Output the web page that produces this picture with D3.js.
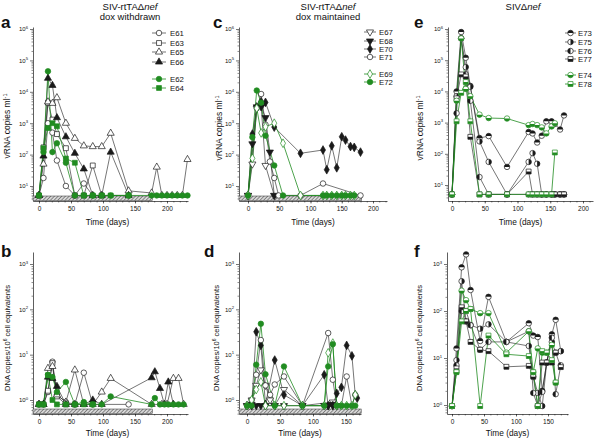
<!DOCTYPE html>
<meta charset="utf-8">
<style>
  body { margin: 0; background: #fff; }
  text { font-family: "Liberation Sans", Arial, Helvetica, sans-serif; fill: #111; }
</style>
<body>
<script src="https://cdn.jsdelivr.net/npm/d3@7/dist/d3.min.js"></script>
<script>
// ---- data: [day, value] ----
// panel a : vRNA, dox withdrawn
const a_E61 = [[0,5],[7,18],[14,1000],[21,500],[28,65],[42,10],[56,5],[70,12],[84,5],[140,5]];
const a_E63 = [[0,5],[7,170],[14,4500],[21,1300],[28,450],[42,160],[56,5],[70,5],[84,45],[98,5]];
const a_E65 = [[0,5],[7,50],[14,4800],[21,4300],[28,6500],[42,1000],[56,330],[70,190],[84,180],[98,180],[112,480],[140,7],[176,6],[184,40],[192,5],[200,5],[208,5],[216,5],[224,5],[232,70]];
const a_E66 = [[0,5],[7,90],[14,27000],[21,16000],[28,1500],[42,370],[56,110],[70,35],[84,5],[98,5],[112,120],[140,5]];
const a_E62 = [[0,5],[7,120],[14,45000],[21,120],[28,230],[42,55],[56,5],[70,5],[84,5],[98,5],[112,5],[140,5],[176,5],[184,5],[192,5],[200,5],[208,5],[216,5],[224,5],[232,5]];
const a_E64 = [[0,5],[7,160],[14,700],[21,1000],[28,800],[42,75],[56,55],[70,5],[84,5],[98,5],[112,5],[140,5]];

// panel b : DNA, dox withdrawn
const b_E61 = [[0,0.8],[7,0.8],[14,1.5],[21,7],[28,1.3],[42,0.9],[56,0.8],[70,4],[84,0.8],[140,0.8]];
const b_E63 = [[0,0.8],[7,0.8],[14,1.6],[21,6.5],[28,1.2],[42,0.8],[56,0.8]];
const b_E65 = [[0,0.8],[7,0.8],[14,5],[21,5.5],[28,1.3],[42,0.9],[56,4.6],[70,0.8],[84,0.8],[98,1.5],[112,3],[176,0.8],[192,0.8],[200,0.8],[210,3],[218,3],[226,0.8]];
const b_E66 = [[0,0.8],[7,0.8],[14,3.2],[21,3],[28,2],[42,0.8],[56,0.8],[70,0.8],[84,1],[98,0.8],[176,3.1],[181,4.2],[189,1.8],[196,0.8],[202,2.5],[210,0.8]];
const b_E62 = [[0,0.8],[7,0.8],[14,3.6],[21,3.2],[28,1.5],[42,2.5],[56,0.8],[70,0.9],[84,0.8],[98,0.8],[112,1.2],[176,0.8],[181,1.1],[189,0.8],[196,0.8],[202,0.8],[210,0.8],[218,0.8],[226,0.8]];
const b_E64 = [[0,0.8],[7,0.8],[14,3.5],[21,1],[28,0.8],[42,0.8],[56,0.8],[70,0.8],[84,0.8]];

// panel c : vRNA, dox maintained
const c_E67 = [[0,5],[7,50],[14,3000],[21,3500],[28,45],[42,5]];
const c_E68 = [[0,5],[7,220],[14,3300],[21,3300],[28,1500],[35,120],[42,5]];
const c_E70 = [[0,5],[7,450],[14,3300],[21,4800],[28,4600],[42,750],[84,110],[120,140],[126,33],[134,190],[142,38],[150,370],[156,290],[164,180],[170,170],[180,120]];
const c_E71 = [[0,5],[14,3000],[21,8500],[28,900],[35,60],[42,18],[49,5],[84,5],[120,12],[180,5]];
const c_E69 = [[0,5],[7,76],[14,3000],[21,490],[28,770],[42,1000],[56,230],[84,5],[120,5],[126,5],[134,5],[142,5],[150,5],[156,5],[164,5],[170,5]];
const c_E72 = [[0,5],[7,360],[14,11000],[21,4500],[28,400],[42,45],[56,5],[120,5],[126,5],[134,5],[142,5],[150,5],[156,5],[164,5],[170,5]];

// panel d : DNA, dox maintained
const d_E67 = [[0,0.75],[7,1],[14,2.1],[21,4.6],[28,2.1],[35,1],[42,0.75],[56,1.7],[84,0.75],[130,0.9]];
const d_E68 = [[0,0.75],[7,0.8],[14,0.75],[21,0.75],[28,0.75],[42,0.75],[56,0.75],[84,0.75],[117,0.75],[123,0.75],[130,0.8],[136,0.75]];
const d_E70 = [[0,0.75],[7,0.75],[14,32],[21,16],[28,0.8],[42,7.6],[56,1.3],[84,0.75],[117,3.6],[123,0.75],[130,0.75],[136,1.4],[143,1.9],[151,16],[159,9.4],[164,1.3],[167,1.1]];
const d_E71 = [[0,0.75],[7,1],[14,3.6],[21,21],[28,2.1],[35,1.3],[42,2.2],[56,3.3],[84,0.75],[123,30],[130,2.8],[136,0.75],[143,0.75],[151,3.3],[159,0.75],[164,1.3]];
const d_E69 = [[0,0.75],[7,1],[14,1.7],[21,2.5],[28,0.75],[42,0.75],[56,0.75],[84,0.75],[117,0.75],[123,11],[130,18],[136,0.75],[143,0.75],[151,0.75],[159,0.75],[164,1.3]];
const d_E72 = [[0,0.75],[7,0.75],[14,6],[21,48],[28,3.7],[42,0.75],[56,5.5],[84,0.75],[117,0.75],[123,5.5],[130,17],[136,0.75],[143,0.75],[151,0.75],[159,0.75],[164,0.75]];

// panel e : vRNA, SIVdelta-nef
const e_E73 = [[0,5],[7,10000],[14,800000],[21,120000],[28,15000],[42,320],[56,370],[84,38],[117,500],[123,450],[130,230],[137,380],[144,1100],[152,1100],[157,900],[165,600],[171,1700]];
const e_E75 = [[0,5],[7,7000],[14,500000],[21,60000],[28,14000],[42,250],[56,55],[84,5],[117,55],[123,105],[130,48],[137,5],[144,5],[152,5],[157,5],[165,5],[171,5]];
const e_E76 = [[0,5],[7,2000],[14,500000],[21,35000],[28,5000],[42,18],[56,5],[84,5],[117,5],[123,5],[130,5],[137,5],[144,5],[152,5],[157,5],[165,5],[171,5]];
const e_E77 = [[0,5],[7,6000],[14,35000],[21,30000],[28,350],[42,5],[56,5],[84,5],[117,27],[123,5],[130,5],[137,5],[144,5],[152,5],[157,5],[165,5],[171,5]];
const e_E74 = [[0,5],[7,5000],[14,500000],[21,12000],[28,7000],[42,1800],[56,1400],[84,1350],[117,830],[123,900],[130,830],[137,700],[144,450],[152,750],[157,950]];
const e_E78 = [[0,5],[7,1100],[14,9000],[21,20000],[28,1100],[42,5],[56,5],[84,5],[117,5],[123,5],[130,5],[137,5],[144,5],[152,5],[157,110]];

// panel f : DNA, SIVdelta-nef
const f_E73 = [[0,0.95],[7,16],[15,850],[22,1600],[29,280],[44,23],[57,200],[85,22],[120,55],[127,30],[134,28],[141,2],[148,8],[156,32],[162,65],[170,14]];
const f_E75 = [[0,0.95],[7,9],[15,430],[22,60],[29,50],[44,42],[57,52],[85,22],[120,18],[127,4],[134,1.8],[141,0.95],[148,8],[156,22],[162,13],[170,14]];
const f_E76 = [[0,0.95],[7,7],[15,100],[22,100],[29,50],[44,15],[57,22],[85,22],[120,37],[127,1.8],[134,0.95],[141,1.9],[148,8],[156,27],[162,1.7],[170,7]];
const f_E77 = [[0,0.95],[7,6],[15,120],[22,60],[29,22],[44,15],[57,14],[85,6.5],[120,6.8],[127,4],[134,0.95],[141,8],[148,8],[156,8],[162,13],[170,6.4]];
const f_E74 = [[0,0.95],[7,5],[15,270],[22,170],[29,110],[44,90],[57,90],[85,13],[120,37],[127,5],[134,16],[141,13],[148,13],[156,19],[162,3]];
const f_E78 = [[0,0.95],[7,5],[15,60],[22,100],[29,110],[44,0.95],[57,30],[85,12],[120,11],[127,5],[134,0.95],[141,14],[148,13],[156,9],[162,3]];

const xTicksA = [0, 50, 100, 150, 200];
const xTicksD = [0, 50, 100, 150];

const BLACK = "#1a1a1a", GREEN = "#218c21";

const svg = d3.select("body").append("svg").attr("width", 600).attr("height", 439);

// hatch pattern for the dox bar
const defs = svg.append("defs");
const pat = defs.append("pattern").attr("id", "hatch").attr("patternUnits", "userSpaceOnUse")
    .attr("width", 2.6).attr("height", 2.6).attr("patternTransform", "rotate(45)");
pat.append("rect").attr("width", 2.6).attr("height", 2.6).attr("fill", "#d8d8d8");
pat.append("line").attr("x1", 0).attr("y1", 0).attr("x2", 0).attr("y2", 2.6).attr("stroke", "#444").attr("stroke-width", 1.1);

function marker(g, m, cx, cy, col) {
    const gg = g.append("g").attr("transform", `translate(${cx},${cy})`);
    const types = {circle: d3.symbolCircle, square: d3.symbolSquare, tri: d3.symbolTriangle, triDown: d3.symbolTriangle, diamond: d3.symbolDiamond};
    const sizes = {circle: 24, square: 24, tri: 22, triDown: 22, diamond: 22};
    const p = gg.append("path")
        .attr("d", d3.symbol().type(types[m.shape]).size(sizes[m.shape])())
        .attr("fill", m.fill === "full" ? col : "#fff")
        .attr("stroke", col).attr("stroke-width", 0.7);
    if (m.shape === "triDown") p.attr("transform", "rotate(180)");
    if (m.fill !== "full" && m.fill !== "none") {
        const r = m.shape === "circle" ? 2.75 : 2.45;
        let d;
        if (m.shape === "circle") {
            d = {top: `M${-r},0A${r},${r} 0 0 1 ${r},0Z`, bottom: `M${-r},0A${r},${r} 0 0 0 ${r},0Z`,
                 right: `M0,${-r}A${r},${r} 0 0 1 0,${r}Z`, left: `M0,${-r}A${r},${r} 0 0 0 0,${r}Z`}[m.fill];
        } else {
            d = `M${-r},0H${r}V${r}H${-r}Z`;
        }
        gg.append("path").attr("d", d).attr("fill", col);
    }
}

function supText(sel, base, sup, fs) {
    sel.text(base);
    sel.append("tspan").attr("dy", -fs * 0.45).attr("font-size", fs * 0.7).text(sup);
}

function panel(p) {
    const g = svg.append("g");
    // log y scale anchored on two pixel positions, then re-domained to axis extents
    const ref = d3.scaleLog().domain([p.yA[0], p.yB[0]]).range([p.yA[1], p.yB[1]]);
    const y = d3.scaleLog().domain([ref.invert(p.bottom), ref.invert(p.top)]).range([p.bottom, p.top]);
    const x = d3.scaleLinear().domain([(p.left - p.x0) / p.ppd, (p.right - p.x0) / p.ppd]).range([p.left, p.right]);

    // y axis
    const lo = Math.floor(Math.log10(y.domain()[0])), hi = Math.ceil(Math.log10(y.domain()[1]));
    const major = d3.range(lo, hi + 1).map(k => Math.pow(10, k)).filter(v => y(v) >= p.top - 0.5 && y(v) <= p.bottom);
    const minor = [];
    d3.range(lo, hi + 1).forEach(k => d3.range(2, 10).forEach(m => {
        const v = m * Math.pow(10, k);
        if (y(v) >= p.top && y(v) <= p.bottom) minor.push(v);
    }));
    g.append("g").attr("transform", `translate(${p.left},0)`)
        .call(d3.axisLeft(y).tickValues(minor).tickSize(1.5).tickSizeOuter(0).tickFormat(""))
        .call(s => s.select(".domain").attr("stroke", BLACK).attr("stroke-width", 0.7))
        .call(s => s.selectAll(".tick line").attr("stroke", BLACK).attr("stroke-width", 0.5));
    const ya = g.append("g").attr("transform", `translate(${p.left},0)`)
        .call(d3.axisLeft(y).tickValues(major).tickSize(3).tickSizeOuter(0).tickPadding(2).tickFormat(""));
    ya.select(".domain").remove();
    ya.selectAll(".tick line").attr("stroke", BLACK).attr("stroke-width", 0.6);
    ya.selectAll(".tick text").attr("font-size", 6).attr("fill", "#111")
        .each(function (d) { supText(d3.select(this), "10", String(Math.round(Math.log10(d))), 6); });

    // hatched dox bar
    if (p.hatch != null) {
        g.append("rect").attr("x", p.left).attr("y", p.bottom - 5)
            .attr("width", x(p.hatch) - p.left).attr("height", 4.5)
            .attr("fill", "url(#hatch)").attr("stroke", "#333").attr("stroke-width", 0.5);
    }

    // x axis
    const xMinor = d3.range(0, x.domain()[1], 10);
    g.append("g").attr("transform", `translate(0,${p.bottom})`)
        .call(d3.axisBottom(x).tickValues(xMinor).tickSize(1.5).tickSizeOuter(0).tickFormat(""))
        .call(s => s.select(".domain").attr("stroke", BLACK).attr("stroke-width", 0.7))
        .call(s => s.selectAll(".tick line").attr("stroke", BLACK).attr("stroke-width", 0.5));
    const xa = g.append("g").attr("transform", `translate(0,${p.bottom})`)
        .call(d3.axisBottom(x).tickValues(p.xTicks).tickSize(2.5).tickPadding(3));
    xa.select(".domain").remove();
    xa.selectAll(".tick line").attr("stroke", BLACK).attr("stroke-width", 0.6);
    xa.selectAll(".tick text").attr("font-size", 6.5).attr("fill", "#111")
        .attr("font-family", '"Liberation Sans", Arial, sans-serif');

    g.append("text").attr("x", (p.left + p.right) / 2 + p.xtOff).attr("y", p.bottom + p.xtY)
        .attr("text-anchor", "middle").attr("font-size", 8.3).text("Time (days)");

    // y label
    const yl = g.append("text").attr("transform", `translate(${p.ylX},${p.ylY}) rotate(-90)`)
        .attr("text-anchor", "middle").attr("font-size", p.ylFs);
    if (p.dna) {
        yl.text("DNA copies/10");
        yl.append("tspan").attr("dy", -3).attr("font-size", 5).text("6");
        yl.append("tspan").attr("dy", 3).text(" cell equivalents");
    } else {
        yl.text("vRNA copies ml");
        yl.append("tspan").attr("dy", -3).attr("font-size", 5.5).text("-1");
    }

    // panel letter
    g.append("text").attr("x", p.letter[1]).attr("y", p.letter[2]).attr("font-size", 17)
        .attr("font-weight", "bold").text(p.letter[0]);

    // series: lines first, then markers
    const line = d3.line().x(d => x(d[0])).y(d => y(d[1]));
    p.series.forEach(s => {
        g.append("path").datum(s.data).attr("d", line).attr("fill", "none")
            .attr("stroke", s.col).attr("stroke-width", s.col === GREEN ? 0.8 : 0.6);
    });
    p.series.forEach(s => {
        s.data.forEach(d => marker(g, s.m, x(d[0]), y(d[1]), s.col));
    });

    // legend
    if (p.legend) {
        const L = p.legend;
        p.series.forEach((s, i) => {
            const ly = L.rows[i];
            g.append("line").attr("x1", L.x1).attr("x2", L.x2).attr("y1", ly).attr("y2", ly)
                .attr("stroke", s.col).attr("stroke-width", s.col === GREEN ? 0.8 : 0.6);
            marker(g, s.m, (L.x1 + L.x2) / 2, ly, s.col);
            g.append("text").attr("x", L.tx).attr("y", ly + 2.8).attr("font-size", 7.8).text(s.name);
        });
    }
}

const mk = (shape, fill) => ({shape, fill});

panel({
    left: 33, right: 188, x0: 39, ppd: 0.64, top: 27, bottom: 201,
    yA: [10, 186], yB: [1e6, 29], hatch: 177, xTicks: xTicksA, xtOff: -3, xtY: 24,
    ylX: 10, ylY: 126, ylFs: 8.5, letter: ["a", 1, 28],
    series: [
        {name: "E61", data: a_E61, col: BLACK, m: mk("circle", "none")},
        {name: "E63", data: a_E63, col: BLACK, m: mk("square", "none")},
        {name: "E65", data: a_E65, col: BLACK, m: mk("tri", "none")},
        {name: "E66", data: a_E66, col: BLACK, m: mk("tri", "full")},
        {name: "E62", data: a_E62, col: GREEN, m: mk("circle", "full")},
        {name: "E64", data: a_E64, col: GREEN, m: mk("square", "full")}
    ],
    legend: {x1: 152, x2: 166, tx: 170, rows: [33, 43, 52, 62, 79, 88]}
});

panel({
    left: 33, right: 188, x0: 39, ppd: 0.64, top: 252, bottom: 414,
    yA: [1, 400], yB: [1000, 264], hatch: 177, xTicks: xTicksA, xtOff: -3, xtY: 21.5, dna: true,
    ylX: 10, ylY: 338, ylFs: 7.5, letter: ["b", 1, 257],
    series: [
        {name: "E61", data: b_E61, col: BLACK, m: mk("circle", "none")},
        {name: "E63", data: b_E63, col: BLACK, m: mk("square", "none")},
        {name: "E65", data: b_E65, col: BLACK, m: mk("tri", "none")},
        {name: "E66", data: b_E66, col: BLACK, m: mk("tri", "full")},
        {name: "E62", data: b_E62, col: GREEN, m: mk("circle", "full")},
        {name: "E64", data: b_E64, col: GREEN, m: mk("square", "full")}
    ]
});

panel({
    left: 239, right: 387, x0: 248, ppd: 0.625, top: 27, bottom: 201,
    yA: [10, 186], yB: [1e6, 29], hatch: 182, xTicks: xTicksA, xtOff: 0, xtY: 24,
    ylX: 222, ylY: 128, ylFs: 8.5, letter: ["c", 213, 28],
    series: [
        {name: "E67", data: c_E67, col: BLACK, m: mk("triDown", "none")},
        {name: "E68", data: c_E68, col: BLACK, m: mk("triDown", "full")},
        {name: "E70", data: c_E70, col: BLACK, m: mk("diamond", "full")},
        {name: "E71", data: c_E71, col: BLACK, m: mk("circle", "none")},
        {name: "E69", data: c_E69, col: GREEN, m: mk("diamond", "none")},
        {name: "E72", data: c_E72, col: GREEN, m: mk("circle", "full")}
    ],
    legend: {x1: 364, x2: 376, tx: 379, rows: [32, 41, 49, 57, 74, 82]}
});

panel({
    left: 239, right: 361, x0: 247, ppd: 0.66, top: 252, bottom: 414,
    yA: [1, 400], yB: [1000, 264], hatch: 173, xTicks: xTicksD, xtOff: 0, xtY: 21.5, dna: true,
    ylX: 219, ylY: 338, ylFs: 7.5, letter: ["d", 204, 257],
    series: [
        {name: "E67", data: d_E67, col: BLACK, m: mk("triDown", "none")},
        {name: "E68", data: d_E68, col: BLACK, m: mk("triDown", "full")},
        {name: "E70", data: d_E70, col: BLACK, m: mk("diamond", "full")},
        {name: "E71", data: d_E71, col: BLACK, m: mk("circle", "none")},
        {name: "E69", data: d_E69, col: GREEN, m: mk("diamond", "none")},
        {name: "E72", data: d_E72, col: GREEN, m: mk("circle", "full")}
    ]
});

panel({
    left: 448, right: 593, x0: 452, ppd: 0.655, top: 27, bottom: 201,
    yA: [10, 185], yB: [1e6, 29], hatch: null, xTicks: xTicksA, xtOff: 0, xtY: 24,
    ylX: 423, ylY: 128, ylFs: 8.5, letter: ["e", 414, 28],
    series: [
        {name: "E73", data: e_E73, col: BLACK, m: mk("circle", "top")},
        {name: "E75", data: e_E75, col: BLACK, m: mk("circle", "right")},
        {name: "E76", data: e_E76, col: BLACK, m: mk("circle", "left")},
        {name: "E77", data: e_E77, col: BLACK, m: mk("square", "bottom")},
        {name: "E74", data: e_E74, col: GREEN, m: mk("circle", "bottom")},
        {name: "E78", data: e_E78, col: GREEN, m: mk("square", "bottom")}
    ],
    legend: {x1: 565, x2: 576, tx: 578, rows: [33, 42, 51, 59, 75, 84]}
});

panel({
    left: 447, right: 568, x0: 452, ppd: 0.64, top: 252, bottom: 414,
    yA: [1, 405], yB: [1000, 264], hatch: null, xTicks: xTicksD, xtOff: 0, xtY: 21.5, dna: true,
    ylX: 422, ylY: 338, ylFs: 7.5, letter: ["f", 414, 257],
    series: [
        {name: "E73", data: f_E73, col: BLACK, m: mk("circle", "top")},
        {name: "E75", data: f_E75, col: BLACK, m: mk("circle", "right")},
        {name: "E76", data: f_E76, col: BLACK, m: mk("circle", "left")},
        {name: "E77", data: f_E77, col: BLACK, m: mk("square", "bottom")},
        {name: "E74", data: f_E74, col: GREEN, m: mk("circle", "bottom")},
        {name: "E78", data: f_E78, col: GREEN, m: mk("square", "bottom")}
    ]
});

// titles
function title(cx, lines) {
    lines.forEach((ln, i) => {
        const t = svg.append("text").attr("x", cx).attr("y", 10 + i * 10).attr("text-anchor", "middle").attr("font-size", 9.5);
        t.append("tspan").text(ln[0]);
        if (ln[1]) t.append("tspan").attr("font-style", "italic").text(ln[1]);
    });
}
title(130, [["SIV-rtTA\u0394", "nef"], ["dox withdrawn"]]);
title(328, [["SIV-rtTA\u0394", "nef"], ["dox maintained"]]);
title(523, [["SIV\u0394", "nef"]]);
</script>
</body>
</html>
